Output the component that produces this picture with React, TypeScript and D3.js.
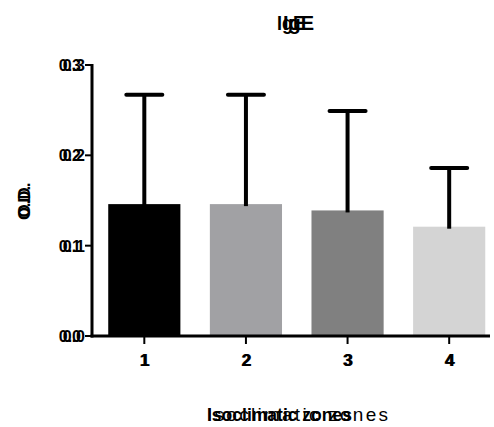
import React from 'react';
import * as d3 from 'd3';

// zones on the x axis
const zones = ['1', '2', '3', '4'];
// mean O.D. per zone
const means = [0.146, 0.146, 0.139, 0.121];
// upper error (SD) per zone, added on top of mean
const errors = [0.121, 0.121, 0.110, 0.065];
const barColors = ['#000000', '#a1a1a4', '#808080', '#d4d4d4'];
const yTicks = [0.0, 0.1, 0.2, 0.3];

const W = 494;
const H = 427;
const FONT = '"Liberation Sans", Arial, sans-serif';

const App = () => {
  const x = d3.scaleBand().domain(zones).range([93.5, 500]).paddingInner(0.29).paddingOuter(0.145);
  const y = d3.scaleLinear().domain([0, 0.3]).range([336, 65]);
  const bw = x.bandwidth();
  const cap = 18;

  return (
    <svg width={W} height={H} style={{ position: 'absolute', left: 0, top: 0, background: '#fff' }}>
      {/* bars */}
      {zones.map((z, i) => (
        <rect key={'b' + z} x={x(z)} y={y(means[i])} width={bw} height={y(0) - y(means[i])} fill={barColors[i]} />
      ))}
      {/* error bars, upper only */}
      {zones.map((z, i) => {
        const cx = (x(z) as number) + bw / 2;
        const top = y(means[i] + errors[i]);
        return (
          <g key={'e' + z} stroke="#000" strokeWidth={4}>
            <line x1={cx} x2={cx} y1={y(means[i]) + 2} y2={top} />
            <line x1={cx - cap} x2={cx + cap} y1={top} y2={top} strokeLinecap="round" />
          </g>
        );
      })}
      {/* y axis */}
      <line x1={92} x2={92} y1={y(0.3) - 1} y2={y(0) + 1.5} stroke="#000" strokeWidth={3} />
      {yTicks.map((t) => (
        <g key={'yt' + t}>
          <line x1={85} x2={92} y1={y(t)} y2={y(t)} stroke="#000" strokeWidth={2} />
          <text x={85} y={y(t) + 6} textAnchor="end" fontFamily={FONT} fontWeight="bold" fontSize={16}>{d3.format('.1f')(t)}</text>
          <text x={81} y={y(t) + 6} textAnchor="end" fontFamily={FONT} fontWeight="bold" fontSize={16}>{d3.format('.1f')(t)}</text>
        </g>
      ))}
      {/* x axis */}
      <line x1={90.5} x2={490} y1={y(0)} y2={y(0)} stroke="#000" strokeWidth={3} />
      {zones.map((z) => {
        const cx = (x(z) as number) + bw / 2;
        return (
          <g key={'xt' + z}>
            <line x1={cx} x2={cx} y1={y(0)} y2={y(0) + 8} stroke="#000" strokeWidth={2} />
            <text x={cx} y={366} textAnchor="middle" fontFamily={FONT} fontWeight="bold" fontSize={17}>{z}</text>
            <text x={cx + 1} y={366} textAnchor="middle" fontFamily={FONT} fontWeight="bold" fontSize={17}>{z}</text>
          </g>
        );
      })}
      {/* title */}
      <text x={277} y={30} fontFamily={FONT} fontWeight="bold" fontSize={20} textLength={28} lengthAdjust="spacingAndGlyphs">IgE</text>
      <text x={283} y={30} fontFamily={FONT} fontWeight="bold" fontSize={20}>IgE</text>
      {/* y label */}
      <g transform="translate(30,200) rotate(-90)">
        <text x={0} y={0} textAnchor="middle" fontFamily={FONT} fontWeight="bold" fontSize={17}>O.D.</text>
        <text x={-3} y={0} textAnchor="middle" fontFamily={FONT} fontWeight="bold" fontSize={17} textLength={34} lengthAdjust="spacingAndGlyphs">O.D.</text>
      </g>
      {/* x label */}
      <text x={207} y={421} fontFamily={FONT} fontWeight="bold" fontSize={19} textLength={145} lengthAdjust="spacingAndGlyphs">Isoclimatic zones</text>
      <text x={207} y={421} fontFamily={FONT} fontSize={19} textLength={181} lengthAdjust="spacing">Isoclimatic zones</text>
    </svg>
  );
};

export default App;
